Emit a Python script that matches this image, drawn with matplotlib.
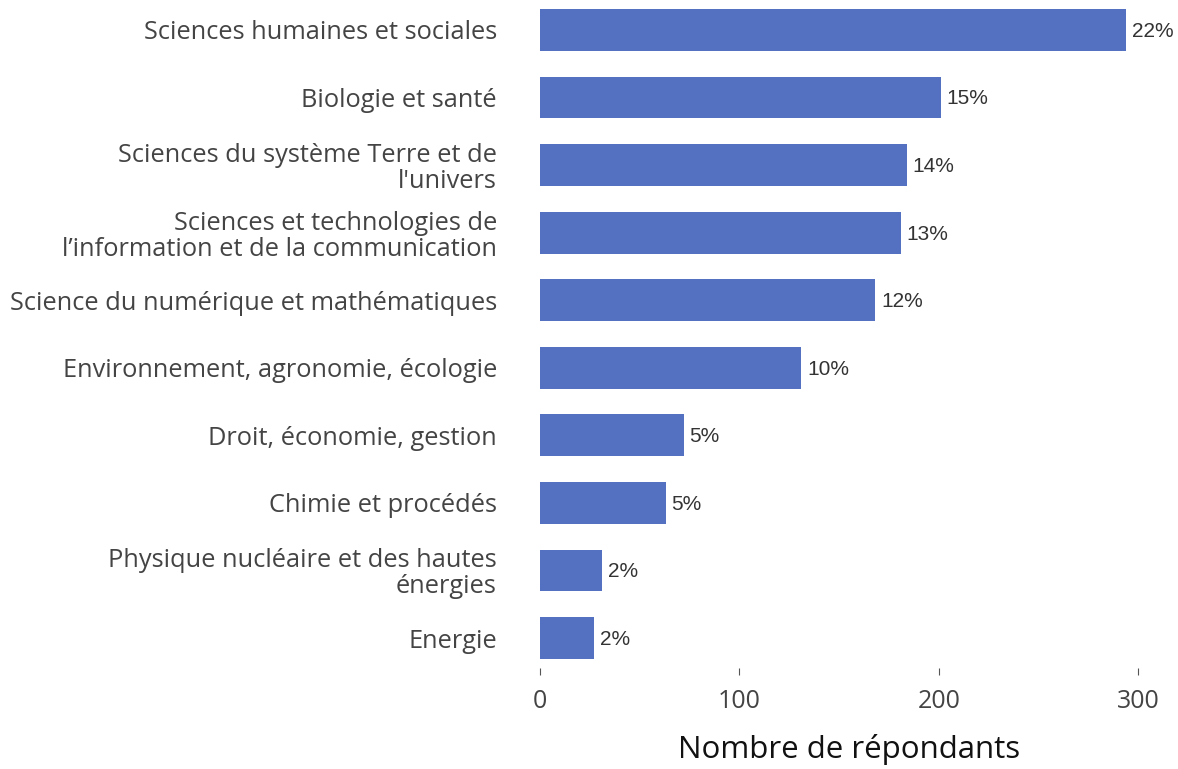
import numpy as np
import matplotlib.pyplot as plt

# disciplines, from top to bottom
categories = [
    "Sciences humaines et sociales",
    "Biologie et santé",
    "Sciences du système Terre et de\nl'univers",
    "Sciences et technologies de\nl\u2019information et de la communication",
    "Science du numérique et mathématiques",
    "Environnement, agronomie, écologie",
    "Droit, économie, gestion",
    "Chimie et procédés",
    "Physique nucléaire et des hautes\nénergies",
    "Energie",
]
counts = [294, 201, 184, 181, 168, 131, 72, 63, 31, 27]
pct_labels = ["22%", "15%", "14%", "13%", "12%", "10%", "5%", "5%", "2%", "2%"]

fig = plt.figure(figsize=(11.78, 7.69), dpi=100)
ax = fig.add_axes([540 / 1178, 101 / 769, 1 - 540 / 1178, 668 / 769])

y = np.arange(len(categories))
ax.barh(y, counts, height=0.62, color="#5470c0")

for yi, c, lab in zip(y, counts, pct_labels):
    ax.text(c + 3, yi + 0.02, lab, va="center", ha="left", fontsize=15,
            family="Liberation Sans", color="#333333")

ax.set_yticks(y)
ax.set_yticklabels(categories, fontsize=18.3, family="Open Sans", color="#444444",
                   linespacing=1.05)
ax.tick_params(axis="y", length=0, pad=31)
ax.set_xticks([0, 100, 200, 300])
ax.tick_params(axis="x", length=5, color="#555555", labelsize=18, labelcolor="#444444", pad=10)
for t in ax.get_xticklabels():
    t.set_family("Open Sans")
ax.set_xlabel("Nombre de répondants", fontsize=22.5, family="Open Sans", color="#111111")
ax.xaxis.set_label_coords((849 - 540) / 638, -66 / 668)

ax.set_xlim(0, 320)
ax.set_ylim(9.444, -0.444)
for s in ax.spines.values():
    s.set_visible(False)

fig.savefig("out.png", dpi=100)
